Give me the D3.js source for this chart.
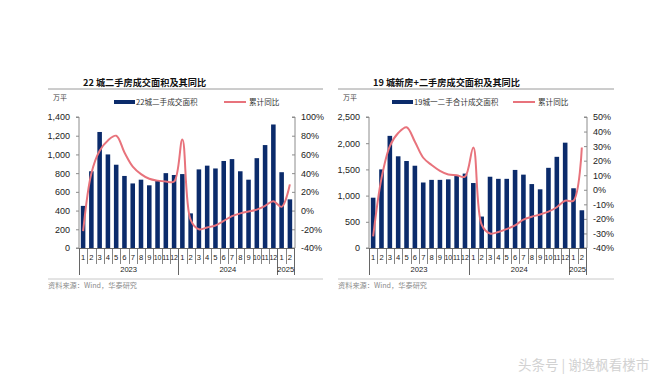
<!DOCTYPE html>
<html><head><meta charset="utf-8">
<script src="https://cdn.jsdelivr.net/npm/d3@7/dist/d3.min.js"></script>
<style>
html,body{margin:0;padding:0;background:#fff;}
svg{display:block;}
text{font-family:"Liberation Sans",Arial,"Noto Sans CJK SC",sans-serif;}
.cjk{font-family:"Noto Sans CJK SC",sans-serif;}
</style></head>
<body>
<svg id="c" width="660" height="382"></svg>
<script>
// ---- data ----
const months = ["1","2","3","4","5","6","7","8","9","10","11","12","1","2","3","4","5","6","7","8","9","10","11","12","1","2"];
const yearLabels = ["2023","2024","2025"];
const yearCounts = [12,12,2];

const area22 = [450,820,1240,1000,890,770,690,730,670,720,800,780, 790,370,840,880,850,930,950,820,730,960,1100,1320, 810,520];
const yoy22  = [-22,40,64,75,80,62,47,39,34,32,31,31, 76,-10,-20,-18,-16,-11,-6,-3,-1,1,5,10, 4,28];
const leftTicks22 = [0,200,400,600,800,1000,1200,1400];
const rightTicks22 = [-40,-20,0,20,40,60,80,100];

const area19 = [960,1500,2140,1750,1660,1570,1250,1300,1300,1310,1390,1420, 1240,600,1360,1320,1320,1490,1400,1220,1120,1530,1740,2010, 1140,720];
const yoy19  = [-32,8,30,39,43,33,22,17,13,10.5,10,9, 29,-24,-30,-29,-27,-24.5,-20.5,-18.5,-17,-15,-12,-7.5, -7.5,29];
const leftTicks19 = [0,500,1000,1500,2000,2500];
const rightTicks19 = [-40,-30,-20,-10,0,10,20,30,40,50];

const BAR = "#0b2b6b", LINE = "#e8737c", AX = "#8c8c8c";
const svg = d3.select("#c");

function drawChart(o){
  const g = svg.append("g");
  const x = d3.scaleBand().domain(d3.range(months.length)).range([o.x0,o.x1]).paddingInner(0.45).paddingOuter(0.22);
  const xs = d3.scaleBand().domain(d3.range(months.length)).range([o.x0,o.x1]);
  const yL = d3.scaleLinear().domain([o.lt[0], o.lt[o.lt.length-1]]).range([248,117]);
  const yR = d3.scaleLinear().domain([o.rt[0], o.rt[o.rt.length-1]]).range([248,117]);

  // title
  g.append("text").attr("class","cjk").attr("x",o.tx).attr("y",86).attr("font-size",9.2).attr("font-weight","bold").attr("fill","#111").text(o.title);
  g.append("line").attr("x1",o.rx0).attr("x2",o.rx1).attr("y1",89).attr("y2",89).attr("stroke","#9a9a9a").attr("stroke-width",1);
  g.append("text").attr("class","cjk").attr("x",o.rx0+5).attr("y",100).attr("font-size",7).attr("fill","#444").text("万平");

  // legend
  g.append("rect").attr("x",o.lg1).attr("y",100).attr("width",21).attr("height",4).attr("fill",BAR);
  g.append("text").attr("class","cjk").attr("x",o.lg1+22).attr("y",104.5).attr("font-size",7.6).attr("fill","#333").text(o.barName);
  g.append("line").attr("x1",o.lg2).attr("x2",o.lg2+22).attr("y1",102).attr("y2",102).attr("stroke",LINE).attr("stroke-width",2);
  g.append("text").attr("class","cjk").attr("x",o.lg2+25).attr("y",104.5).attr("font-size",7.6).attr("fill","#333").text("累计同比");

  // left axis
  const la = g.append("g").attr("transform",`translate(${o.x0},0)`)
    .call(d3.axisLeft(yL).tickValues(o.lt).tickSize(3).tickPadding(6).tickFormat(d3.format(",")));
  la.select(".domain").attr("stroke",AX).attr("d",`M-3,117H0V248H-3`);
  la.selectAll(".tick line").attr("stroke",AX);
  la.selectAll("text").attr("font-size",9).attr("fill","#222").attr("font-family","Liberation Sans, Arial, sans-serif");

  // right axis
  const ra = g.append("g").attr("transform",`translate(${o.x1+1},0)`)
    .call(d3.axisRight(yR).tickValues(o.rt).tickSize(-3).tickPadding(6).tickFormat(d=>d+"%"));
  ra.select(".domain").attr("stroke",AX).attr("d",`M-3,117H0V248H-3`);
  ra.selectAll(".tick line").attr("stroke",AX);
  ra.selectAll("text").attr("font-size",9).attr("fill","#222").attr("font-family","Liberation Sans, Arial, sans-serif");

  // bars
  g.selectAll("rect.bar").data(o.bars).enter().append("rect").attr("class","bar")
    .attr("x",(d,i)=>x(i)).attr("width",x.bandwidth())
    .attr("y",d=>yL(d)).attr("height",d=>yL(0)-yL(d)).attr("fill",BAR);

  // line
  const ln = d3.line().x((d,i)=>xs(i)+xs.bandwidth()/2).y(d=>yR(d)).curve(d3.curveCatmullRom.alpha(0.5));
  g.append("path").attr("d",ln(o.line)).attr("fill","none").attr("stroke",LINE).attr("stroke-width",2);

  // category axis
  g.append("line").attr("x1",o.x0).attr("x2",o.x1).attr("y1",248.5).attr("y2",248.5).attr("stroke","#666");
  const bounds = [0]; yearCounts.reduce((a,c)=>{bounds.push(a+c); return a+c;},0);
  d3.range(months.length+1).forEach(i=>{
    const xx = i<months.length ? xs(i) : o.x1;
    const long = bounds.includes(i);
    g.append("line").attr("x1",Math.round(xx)+0.5).attr("x2",Math.round(xx)+0.5).attr("y1",248).attr("y2",long?275:264).attr("stroke","#666").attr("stroke-width",long?1:0.8);
  });
  g.selectAll("text.m").data(months).enter().append("text").attr("class","m")
    .attr("x",(d,i)=>xs(i)+xs.bandwidth()/2).attr("y",260).attr("text-anchor","middle")
    .attr("font-size",d=>d.length>1?7:7.6).attr("fill","#222").text(d=>d);
  yearLabels.forEach((yl,k)=>{
    const a = xs(bounds[k]); const b = bounds[k+1]<months.length ? xs(bounds[k+1]) : o.x1;
    g.append("text").attr("x",(a+b)/2).attr("y",272).attr("text-anchor","middle").attr("font-size",7.6).attr("fill","#222").text(yl);
  });

  // source
  g.append("line").attr("x1",o.rx0).attr("x2",o.rx1).attr("y1",279).attr("y2",279).attr("stroke","#c8c8c8");
  g.append("text").attr("class","cjk").attr("x",o.rx0).attr("y",288).attr("font-size",7.2).attr("fill","#8a8a8a").text("资料来源：Wind，华泰研究");
}

drawChart({x0:79,x1:294,tx:83,rx0:48,rx1:323,lg1:114,lg2:224,
  title:"22 城二手房成交面积及其同比", barName:"22城二手成交面积",
  bars:area22, line:yoy22, lt:leftTicks22, rt:rightTicks22});
drawChart({x0:369,x1:586,tx:373,rx0:338,rx1:614,lg1:392,lg2:513,
  title:"19 城新房+二手房成交面积及其同比", barName:"19城一二手合计成交面积",
  bars:area19, line:yoy19, lt:leftTicks19, rt:rightTicks19});

// watermark
svg.append("text").attr("class","cjk").attr("x",518).attr("y",370).attr("font-size",13.5)
  .attr("fill","#d2d2d2").text("头条号 | 谢逸枫看楼市");
</script>
</body></html>
